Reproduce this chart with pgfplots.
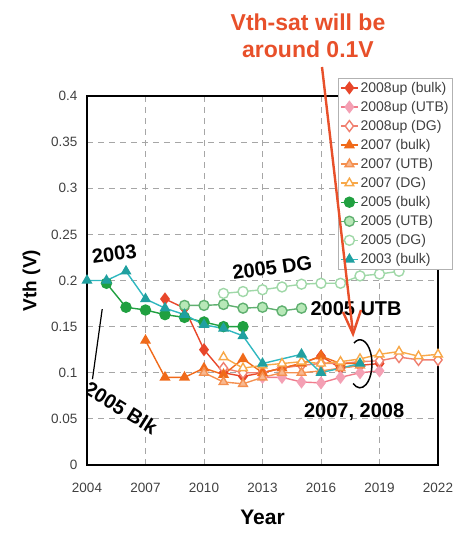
\documentclass[border=0pt]{standalone}
\usepackage{pgfplots}
\pgfplotsset{compat=1.18}
\usepackage{fontspec}
\setmainfont{Liberation Sans}
\definecolor{cRed}{HTML}{E8462A}
\definecolor{cPink}{HTML}{F4A0B4}
\definecolor{cPinkL}{HTML}{F07C8C}
\definecolor{cSalmon}{HTML}{F08070}
\definecolor{cOrange}{HTML}{F06A1A}
\definecolor{cOrangeL}{HTML}{F8B890}
\definecolor{cOrangeE}{HTML}{F49050}
\definecolor{cYOrange}{HTML}{F8A848}
\definecolor{cGreen}{HTML}{20A040}
\definecolor{cGreenL}{HTML}{B8E8B8}
\definecolor{cGreenE}{HTML}{60B070}
\definecolor{cGreenP}{HTML}{A0D8A8}
\definecolor{cTeal}{HTML}{20A0A0}
\definecolor{cTealL}{HTML}{30B8C0}
\definecolor{annot}{HTML}{E8502A}
\begin{document}
\begin{tikzpicture}
\begin{axis}[
  scale only axis, width=351pt, height=369pt,
  xmin=2004, xmax=2022, ymin=0, ymax=0.4,
  xtick={2004,2007,2010,2013,2016,2019,2022},
  ytick={0,0.05,0.1,0.15,0.2,0.25,0.3,0.35,0.4},
  yticklabels={0,0.05,0.1,0.15,0.2,0.25,0.3,0.35,0.4},
  xticklabels={2004,2007,2010,2013,2016,2019,2022},
  tick style={draw=none},
  axis line style={line width=1.4pt, black},
  grid=major, major grid style={gray!70, line width=0.8pt, dash pattern=on 6pt off 5pt},
  ticklabel style={font=\fontsize{13.5}{15}\selectfont, text=black!75},
  /pgf/number format/assume math mode=true,
  xticklabel style={yshift=-15pt},
  yticklabel style={xshift=-6pt},
  xlabel={\bfseries Year}, xlabel style={font=\fontsize{21}{23}\selectfont, yshift=-10pt},
  ylabel={\bfseries Vth (V)}, ylabel style={font=\fontsize{19}{22}\selectfont, yshift=4pt},
  legend style={at={(0.715,1.049)}, anchor=north west, font=\fontsize{14}{15}\selectfont, text=black!75,
    draw=gray!60, fill=white, row sep=3.4pt, inner sep=2pt, cells={anchor=west},
    /tikz/every even column/.append style={column sep=1pt}},
  legend image post style={line width=1.4pt},
  legend cell align=left,
  every axis plot/.append style={line width=1.4pt, mark size=5pt},
]
% 2008up (bulk)
\addplot[cRed, mark=diamond*, mark options={fill=cRed, mark size=5.5pt}] coordinates {
(2008,0.18)(2009,0.17)(2010,0.125)(2011,0.1)(2012,0.096)(2013,0.1)(2014,0.105)(2015,0.11)(2016,0.118)(2017,0.105)(2018,0.108)(2019,0.11)};
\addlegendentry{2008up (bulk)}
% 2008up (UTB)
\addplot[cPinkL, mark=diamond*, mark options={fill=cPink, draw=cPink, mark size=5.5pt}] coordinates {
(2013,0.095)(2014,0.095)(2015,0.09)(2016,0.089)(2017,0.095)(2018,0.1)(2019,0.102)};
\addlegendentry{2008up (UTB)}
% 2008up (DG)
\addplot[cSalmon, mark=diamond*, mark options={fill=white, draw=cSalmon, mark size=5.5pt}] coordinates {
(2011,0.105)(2012,0.1)(2013,0.1)(2014,0.105)(2015,0.108)(2016,0.11)(2017,0.11)(2018,0.112)(2019,0.113)(2020,0.117)(2021,0.114)(2022,0.114)};
\addlegendentry{2008up (DG)}
% 2007 (bulk)
\addplot[cOrange, mark=triangle*, mark options={fill=cOrange}] coordinates {
(2007,0.135)(2008,0.095)(2009,0.095)(2010,0.105)(2011,0.098)(2012,0.115)(2013,0.1)(2014,0.105)(2015,0.11)(2016,0.118)(2017,0.11)(2018,0.11)};
\addlegendentry{2007 (bulk)}
% 2007 (UTB)
\addplot[cOrangeE, mark=triangle*, mark options={fill=cOrangeL, draw=cOrangeE}] coordinates {
(2010,0.1)(2011,0.09)(2012,0.088)(2013,0.095)(2014,0.1)(2015,0.1)(2016,0.102)(2017,0.105)(2018,0.108)};
\addlegendentry{2007 (UTB)}
% 2007 (DG)
\addplot[cYOrange, mark=triangle*, mark options={fill=white, draw=cYOrange}] coordinates {
(2011,0.117)(2012,0.105)(2013,0.108)(2014,0.11)(2015,0.112)(2016,0.11)(2017,0.112)(2018,0.115)(2019,0.12)(2020,0.123)(2021,0.118)(2022,0.12)};
\addlegendentry{2007 (DG)}
% 2005 (bulk)
\addplot[cGreen, mark=*, mark options={fill=cGreen}] coordinates {
(2005,0.197)(2006,0.171)(2007,0.168)(2008,0.163)(2009,0.16)(2010,0.155)(2011,0.15)(2012,0.15)};
\addlegendentry{2005 (bulk)}
% 2005 (UTB)
\addplot[cGreenE, mark=*, mark options={fill=cGreenL, draw=cGreenE}] coordinates {
(2009,0.173)(2010,0.173)(2011,0.174)(2012,0.17)(2013,0.171)(2014,0.167)(2015,0.17)};
\addlegendentry{2005 (UTB)}
% 2005 (DG)
\addplot[cGreenP, mark=*, mark options={fill=white, draw=cGreenP}] coordinates {
(2011,0.186)(2012,0.188)(2013,0.19)(2014,0.193)(2015,0.196)(2016,0.197)(2017,0.197)(2018,0.205)(2019,0.207)(2020,0.21)};
\addlegendentry{2005 (DG)}
% 2003 (bulk)
\addplot[cTealL, mark=triangle*, mark options={fill=cTeal, draw=cTeal}] coordinates {
(2004,0.2)(2005,0.2)(2006,0.21)(2007,0.18)(2008,0.17)(2009,0.163)(2010,0.152)(2011,0.148)(2012,0.14)(2013,0.11)(2015,0.12)(2016,0.1)(2018,0.11)};
\addlegendentry{2003 (bulk)}

% annotations
\node[font=\bfseries\fontsize{20}{22}\selectfont, rotate=8] at (axis cs:2005.4,0.229) {2003};
\node[font=\bfseries\fontsize{20}{22}\selectfont, rotate=8] at (axis cs:2013.5,0.214) {2005 DG};
\node[font=\bfseries\fontsize{20}{22}\selectfont] at (axis cs:2017.8,0.170) {2005 UTB};
\node[font=\bfseries\fontsize{20}{22}\selectfont] at (axis cs:2017.7,0.057) {2007, 2008};
\node[font=\bfseries\fontsize{20}{22}\selectfont, rotate=-32] at (axis cs:2005.75,0.062) {2005 Blk};
\draw[black, line width=1.2pt] (axis cs:2004.78,0.169) -- (axis cs:2004.28,0.093);
\end{axis}
\draw[black, line width=1.5pt] (354pt-87pt,465pt-343pt) arc[start angle=120, end angle=-125, x radius=12pt, y radius=24pt];
\draw[annot, line width=2.4pt] (322pt-87pt,465pt-67pt) -- (353pt-87pt,465pt-333pt);
\draw[annot, line width=2.4pt] (343pt-87pt,465pt-312pt) -- (353pt-87pt,465pt-334pt) -- (361pt-87pt,465pt-310pt);
\node[annot, font=\bfseries\fontsize{23}{27}\selectfont, align=center] at (308pt-87pt,465pt-36pt) {Vth-sat will be\\around 0.1V};
\pgfresetboundingbox
\path[use as bounding box] (-87pt,-71pt) rectangle (369pt,465pt);
\end{tikzpicture}
\end{document}
